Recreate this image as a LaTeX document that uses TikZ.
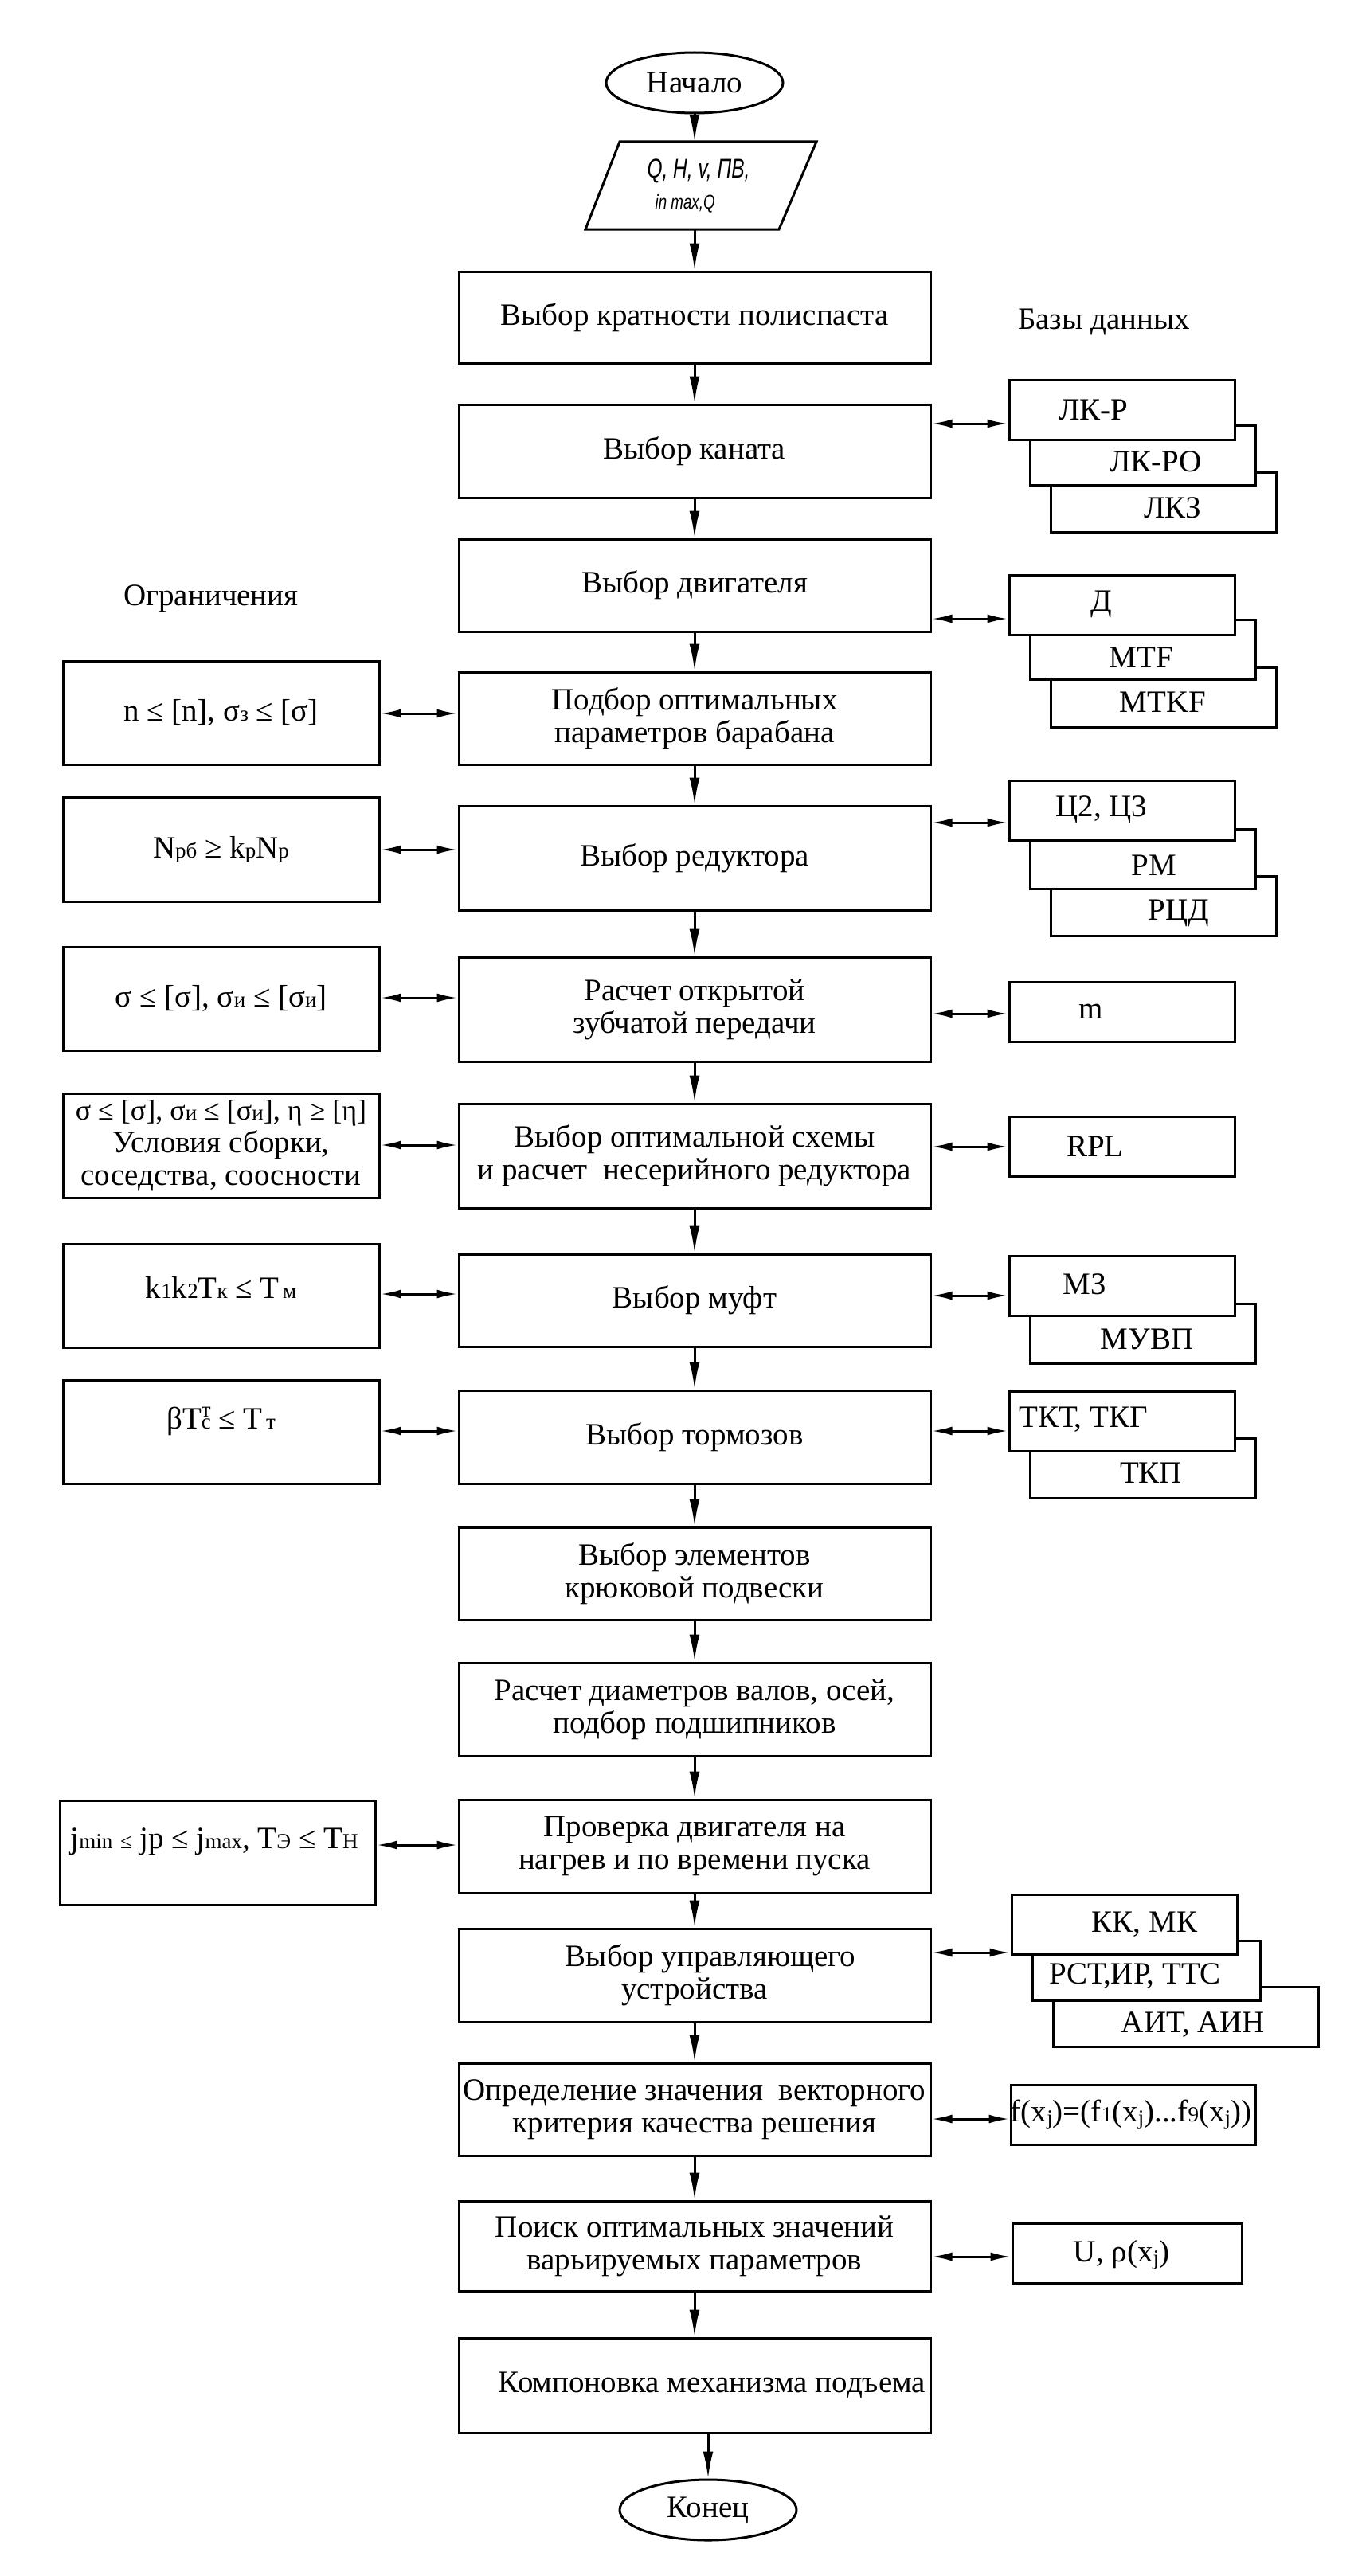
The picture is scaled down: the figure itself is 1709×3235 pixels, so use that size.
\documentclass[tikz,border=0pt]{standalone}
\usepackage{fontspec}
\usepackage{graphicx}
\setmainfont{Liberation Serif}
\newfontfamily\gostfont{Liberation Sans}
\usetikzlibrary{shapes.geometric,arrows.meta}
\newcommand\lo[1]{{\fontsize{27}{27}\selectfont #1}}
\newcommand\lj[1]{\raisebox{-4pt}{\fontsize{27}{27}\selectfont #1}}
\begin{document}
\begin{tikzpicture}[x=1pt,y=-1pt,
  every node/.style={font=\fontsize{39}{41}\selectfont, inner sep=0pt, align=center},
  mainbox/.style={draw, rectangle, line width=3pt, minimum width=592pt},
  limbox/.style={draw, rectangle, line width=3pt, minimum width=397pt, minimum height=130pt},
  dbbox/.style={draw, rectangle, fill=white, line width=3pt, minimum width=283pt, minimum height=75pt},
  term/.style={draw, ellipse, line width=3pt, minimum width=222pt, minimum height=76pt},
  arr/.style={line width=3pt, -{Latex[length=34pt,width=13pt]}},
  dbl/.style={line width=3pt, {Latex[length=26pt,width=11pt]}-{Latex[length=26pt,width=11pt]}},
]
\fill[white] (0,0) rectangle (1709,3235);
\useasboundingbox (0,0) rectangle (1709,3235);

% headings
\node (hdb) at (1386,405) {Базы данных};
\node (hlim) at (265,752) {Ограничения};

% start / input
\node[term] (start) at (872,104) {Начало};
\draw[line width=3pt] (778,178) -- (1025,178) -- (978,288) -- (735,288) -- cycle;
\node[minimum width=200pt, minimum height=110pt, align=left] (par) at (877,233)
  {\gostfont\itshape\fontsize{34}{33}\selectfont\scalebox{0.72}[1]{Q, H, v, ПВ,}\\[-2pt]
   \gostfont\itshape\fontsize{25}{25}\selectfont\hspace*{10pt}\scalebox{0.75}[1]{in max,Q}};

% main column
\node[mainbox, minimum height=115pt] (b1) at (872,398.5) {Выбор кратности полиспаста};
\node[mainbox, minimum height=117pt] (b2) at (872,566.5) {Выбор каната};
\node[mainbox, minimum height=116pt] (b3) at (872,735) {Выбор двигателя};
\node[mainbox, minimum height=116pt] (b4) at (872,902) {Подбор оптимальных\\параметров барабана};
\node[mainbox, minimum height=131pt] (b5) at (872,1077.5) {Выбор редуктора};
\node[mainbox, minimum height=131pt] (b6) at (872,1267.5) {Расчет открытой\\зубчатой передачи};
\node[mainbox, minimum height=131pt] (b7) at (872,1451.5) {Выбор оптимальной схемы\\и расчет\ \ несерийного редуктора};
\node[mainbox, minimum height=116pt] (b8) at (872,1633) {Выбор муфт};
\node[mainbox, minimum height=117pt] (b9) at (872,1804.5) {Выбор тормозов};
\node[mainbox, minimum height=116pt] (b10) at (872,1976) {Выбор элементов\\крюковой подвески};
\node[mainbox, minimum height=117pt] (b11) at (872,2146.5) {Расчет диаметров валов, осей,\\подбор подшипников};
\node[mainbox, minimum height=117pt] (b12) at (872,2318.5) {Проверка двигателя на\\нагрев и по времени пуска};
\node[mainbox, minimum height=117pt] (b13) at (872,2480.5) {\hspace*{40pt}Выбор управляющего\\устройства};
\node[mainbox, minimum height=116pt] (b14) at (872,2649) {Определение значения\ \ векторного\\критерия качества решения};
\node[mainbox, minimum height=113pt] (b15) at (872,2820.5) {Поиск оптимальных значений\\варьируемых параметров};
\node[mainbox, minimum height=119pt] (b16) at (872,2995.5) {\hspace*{44pt}Компоновка механизма подъема};
\node[term] (end) at (889,3152) {Конец};

% main arrows
\draw[arr] (start.south) -- (start.south |- par.north);
\draw[arr] (par.south -| b1.north) -- (b1.north);
\draw[arr] (b1.south) -- (b2.north);
\draw[arr] (b2.south) -- (b3.north);
\draw[arr] (b3.south) -- (b4.north);
\draw[arr] (b4.south) -- (b5.north);
\draw[arr] (b5.south) -- (b6.north);
\draw[arr] (b6.south) -- (b7.north);
\draw[arr] (b7.south) -- (b8.north);
\draw[arr] (b8.south) -- (b9.north);
\draw[arr] (b9.south) -- (b10.north);
\draw[arr] (b10.south) -- (b11.north);
\draw[arr] (b11.south) -- (b12.north);
\draw[arr] (b12.south) -- (b13.north);
\draw[arr] (b13.south) -- (b14.north);
\draw[arr] (b14.south) -- (b15.north);
\draw[arr] (b15.south) -- (b16.north);
\draw[arr] (b16.south -| end.north) -- (end.north);

% constraints (left)
\node[limbox] (L4) at (277.5,895) {n ≤ [n], σ\lo{з} ≤ [σ]};
\node[limbox, minimum height=131pt] (L5) at (277.5,1066.5) {N\lo{рб} ≥ k\lo{р}N\lo{р}};
\node[limbox] (L6) at (277.5,1254) {σ ≤ [σ], σ\lo{и} ≤ [σ\lo{и}]};
\node[limbox, minimum height=131pt] (L7) at (277.5,1438.5) {{\fontsize{36}{41}\selectfont σ ≤ [σ], σ\lo{и} ≤ [σ\lo{и}], η ≥ [η]}\\Условия сборки,\\соседства, соосности};
\node[limbox] (L8) at (277.5,1627) {};
\node (L8t) at (277.5,1617) {k\lo{1}k\lo{2}T\lo{к} ≤ T\lo{\,м}};
\node[limbox] (L9) at (277.5,1798) {};
\node (L9t) at (277.5,1785) {βT\shortstack[l]{\lo{т}\\\lo{c}} ≤ T\lo{\,т}};
\node[limbox, minimum width=396pt, minimum height=131pt] (L12) at (273,2326.5) {};
\node (L12t) at (269,2313) {j\lo{min} \lo{≤} jp ≤ j\lo{max}, T\lo{Э} ≤ T\lo{Н}};

\draw[dbl] (L4.east |- 0,896) -- (b4.west |- 0,896);
\draw[dbl] (L5.east |- 0,1067) -- (b5.west |- 0,1067);
\draw[dbl] (L6.east |- 0,1253) -- (b6.west |- 0,1253);
\draw[dbl] (L7.east |- 0,1438) -- (b7.west |- 0,1438);
\draw[dbl] (L8.east |- 0,1625) -- (b8.west |- 0,1625);
\draw[dbl] (L9.east |- 0,1797) -- (b9.west |- 0,1797);
\draw[dbl] (L12.east |- 0,2317) -- (b12.west |- 0,2317);

% databases (right)
\node[dbbox] (D2c) at (1460.5,630.5) {};
\node[dbbox] (D2b) at (1434.5,572) {};
\node[dbbox] (D2a) at (1408.5,515) {};
\node (t2a) at (1373,515) {ЛК-Р};
\node (t2b) at (1451,580) {ЛК-РО};
\node (t2c) at (1472,638) {ЛКЗ};

\node[dbbox] (D3c) at (1460.5,875.5) {};
\node[dbbox] (D3b) at (1434.5,816) {};
\node[dbbox] (D3a) at (1408.5,759.5) {};
\node (t3a) at (1383,759) {Д};
\node (t3b) at (1433,826) {MTF};
\node (t3c) at (1460,882) {MTKF};

\node[dbbox] (D5c) at (1460.5,1138) {};
\node[dbbox] (D5b) at (1434.5,1078.5) {};
\node[dbbox] (D5a) at (1408.5,1018) {};
\node (t5a) at (1383,1017) {Ц2, Ц3};
\node (t5b) at (1449,1087) {РМ};
\node (t5c) at (1480,1147) {РЦД};

\node[dbbox] (D6) at (1408.5,1270.5) {};
\node (t6) at (1370,1270) {m};

\node[dbbox] (D7) at (1408.5,1440) {};
\node (t7) at (1375,1440) {RPL};

\node[dbbox] (D8b) at (1434.5,1675) {};
\node[dbbox] (D8a) at (1408.5,1614.5) {};
\node (t8a) at (1362,1613) {МЗ};
\node (t8b) at (1440,1682) {МУВП};

\node[dbbox] (D9b) at (1434.5,1843.5) {};
\node[dbbox] (D9a) at (1408.5,1784.5) {};
\node (t9a) at (1360,1783) {ТКТ, ТКГ};
\node (t9b) at (1445,1850) {ТКП};

\node[dbbox, minimum width=333pt] (D13c) at (1488.5,2533) {};
\node[dbbox, minimum width=286pt] (D13b) at (1439,2474.5) {};
\node[dbbox] (D13a) at (1411.5,2416.5) {};
\node (t13a) at (1437,2417) {КК, МК};
\node (t13b) at (1425,2482) {РСТ,ИР, ТТС};
\node (t13c) at (1498,2543) {АИТ, АИН};

\node[dbbox, minimum width=307pt] (D14) at (1422.5,2656) {};
\node (t14) at (1420,2656) {f(x\lj{j})=(f\lo{1}(x\lj{j})...f\lo{9}(x\lj{j}))};

\node[dbbox, minimum width=288pt] (D15) at (1415,2830) {};
\node (t15) at (1408,2832) {U, ρ(x\lj{j})};

\draw[dbl] (b2.east |- 0,532) -- (D2a.west |- 0,532);
\draw[dbl] (b3.east |- 0,777) -- (D3a.west |- 0,777);
\draw[dbl] (b5.east |- 0,1033) -- (D5a.west |- 0,1033);
\draw[dbl] (b6.east |- 0,1273) -- (D6.west |- 0,1273);
\draw[dbl] (b7.east |- 0,1440) -- (D7.west |- 0,1440);
\draw[dbl] (b8.east |- 0,1627) -- (D8a.west |- 0,1627);
\draw[dbl] (b9.east |- 0,1797) -- (D9a.west |- 0,1797);
\draw[dbl] (b13.east |- 0,2452) -- (D13a.west |- 0,2452);
\draw[dbl] (b14.east |- 0,2661) -- (D14.west |- 0,2661);
\draw[dbl] (b15.east |- 0,2834) -- (D15.west |- 0,2834);
\end{tikzpicture}
\end{document}
